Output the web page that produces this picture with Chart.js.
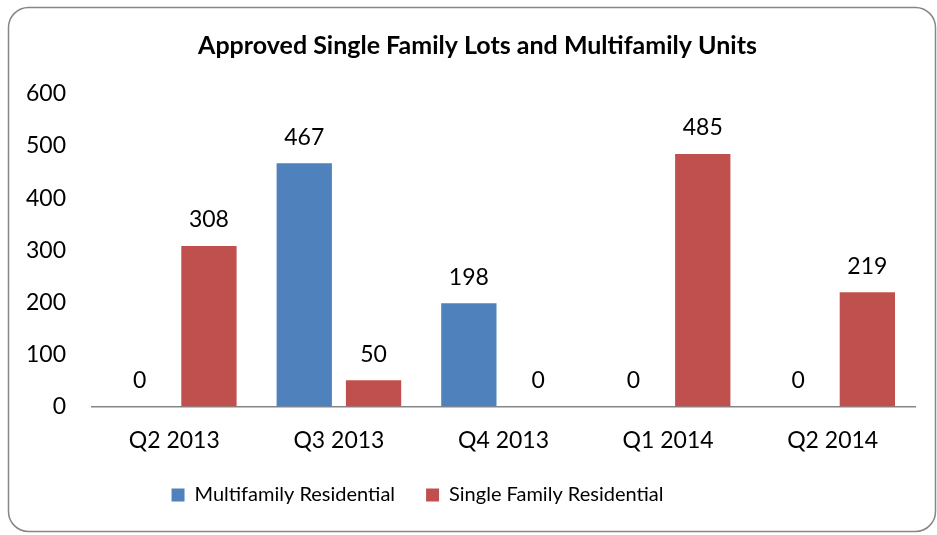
<!DOCTYPE html>
<html>
<head>
<meta charset="utf-8">
<script src="https://cdn.jsdelivr.net/npm/chart.js@4.4.0/dist/chart.umd.min.js"></script>
<style>
  html, body { margin: 0; padding: 0; background: #fff; }
  #wrap { width: 937px; height: 535px; position: relative; }
</style>
</head>
<body>
<div id="wrap"><canvas id="chart"></canvas></div>
<script>
// chart data
const quarters = ["Q2 2013", "Q3 2013", "Q4 2013", "Q1 2014", "Q2 2014"];
const multifamily = [0, 467, 198, 0, 0];
const singleFamily = [308, 50, 0, 485, 219];
const yTicks = [0, 100, 200, 300, 400, 500, 600];

const FONT = "Lato, 'Open Sans', sans-serif";

// rounded frame around the whole chart
const framePlugin = {
    id: "frame",
    beforeDraw(chart) {
        const ctx = chart.ctx;
        const x = 8.5, y = 7.5, w = 927, h = 524, r = 20;
        ctx.save();
        ctx.fillStyle = "#fff";
        ctx.fillRect(0, 0, chart.width, chart.height);
        ctx.beginPath();
        ctx.roundRect(x, y, w, h, r);
        ctx.strokeStyle = "#868686";
        ctx.lineWidth = 1.5;
        ctx.stroke();
        ctx.restore();
    },
};

// nudge title and legend to where the original has them
const nudgeBoxes = {
    id: "nudgeBoxes",
    afterLayout(chart) {
        if (chart.legend) {
            chart.legend.left -= 40;
            chart.legend.right -= 40;
            chart.legend.top -= 20;
            chart.legend.bottom -= 20;
        }
        if (chart.titleBlock) {
            chart.titleBlock.left += 20;
            chart.titleBlock.right += 20;
        }
    },
};

// value labels above each bar
const valueLabels = {
    id: "valueLabels",
    afterDatasetsDraw(chart) {
        const ctx = chart.ctx;
        ctx.save();
        ctx.font = "23px " + FONT;
        ctx.fillStyle = "#000";
        ctx.textAlign = "center";
        ctx.textBaseline = "middle";
        chart.data.datasets.forEach((ds, i) => {
            chart.getDatasetMeta(i).data.forEach((bar, j) => {
                ctx.fillText(String(ds.data[j]), bar.x, bar.y - 26);
            });
        });
        ctx.restore();
    },
};

new Chart(document.getElementById("chart"), {
    type: "bar",
    data: {
        labels: quarters,
        datasets: [
            {
                label: "Multifamily Residential",
                data: multifamily,
                backgroundColor: "#4F81BD",
                categoryPercentage: 0.842,
                barPercentage: 0.798,
            },
            {
                label: "Single Family Residential",
                data: singleFamily,
                backgroundColor: "#C0504D",
                categoryPercentage: 0.842,
                barPercentage: 0.798,
            },
        ],
    },
    options: {
        responsive: true,
        maintainAspectRatio: false,
        animation: false,
        layout: { padding: { top: 10, right: 22, bottom: 0, left: 0 } },
        plugins: {
            title: {
                display: true,
                text: "Approved Single Family Lots and Multifamily Units",
                color: "#000",
                font: { family: FONT, size: 25, weight: "bold" },
                padding: { top: 21, bottom: 33 },
            },
            legend: {
                position: "bottom",
                labels: {
                    color: "#000",
                    font: { family: FONT, size: 20 },
                    boxWidth: 13,
                    boxHeight: 13,
                    padding: 31,
                },
            },
            tooltip: { enabled: false },
        },
        scales: {
            x: {
                grid: { display: false, drawTicks: false },
                border: { display: true, color: "#868686", width: 1.5 },
                ticks: { color: "#000", font: { family: FONT, size: 23 }, padding: 20 },
            },
            y: {
                min: 0,
                max: 600,
                afterBuildTicks(axis) {
                    axis.ticks = yTicks.map((v) => ({ value: v }));
                },
                afterFit(axis) {
                    axis.width = 92;
                },
                grid: { display: false, drawTicks: false },
                border: { display: false },
                ticks: { color: "#000", font: { family: FONT, size: 23 }, padding: 26 },
            },
        },
    },
    plugins: [framePlugin, nudgeBoxes, valueLabels],
});
</script>
</body>
</html>
